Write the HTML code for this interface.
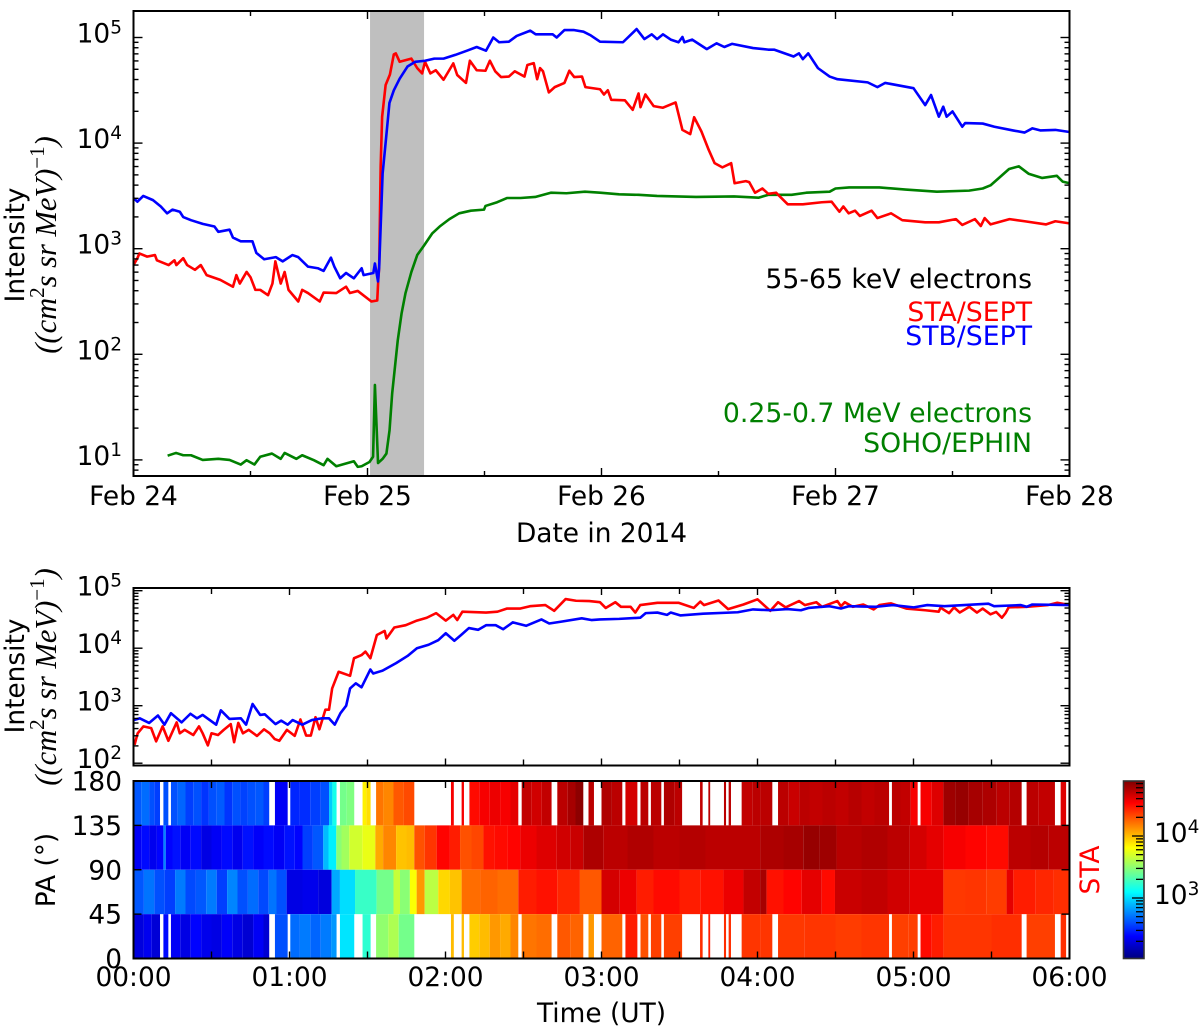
<!DOCTYPE html>
<html>
<head>
<meta charset="utf-8">
<title>Electron intensity, Feb 2014</title>
<style>
html,body{margin:0;padding:0;background:#fff;}
svg{display:block;}
text{font-family:"DejaVu Sans","Liberation Sans",sans-serif;font-size:26.4px;fill:#000;}
.math{font-family:"Liberation Serif","DejaVu Serif",serif;font-style:italic;font-size:30.5px;}
.anno{font-size:26.7px;}
</style>
</head>
<body>
<svg id="fig" xmlns="http://www.w3.org/2000/svg" width="1200" height="1030" viewBox="0 0 1200 1030">
  <rect x="0" y="0" width="1200" height="1030" fill="#fff"/>
  <g id="top-marks"></g>
  <g id="mid-marks"></g>
  <g id="heat-marks"></g>
  <g id="cbar-marks"></g>
  <g id="axes-layer"></g>

  <text transform="translate(24,245) rotate(-90)" text-anchor="middle">Intensity</text>
  <text class="math" transform="translate(56,245) rotate(-90)" text-anchor="middle">((cm<tspan font-size="21" dy="-12" font-style="normal">2</tspan><tspan dy="12">s sr MeV)</tspan><tspan font-size="21" dy="-12" font-style="normal">−1</tspan><tspan dy="12">)</tspan></text>
  <text x="601.5" y="542" text-anchor="middle">Date in 2014</text>

  <text class="anno" x="1032" y="288" text-anchor="end">55-65 keV electrons</text>
  <text class="anno" x="1032" y="321" text-anchor="end" style="fill:#f00">STA/SEPT</text>
  <text class="anno" x="1032" y="345" text-anchor="end" style="fill:#00f">STB/SEPT</text>
  <text class="anno" x="1032" y="422" text-anchor="end" style="fill:#008000">0.25-0.7 MeV electrons</text>
  <text class="anno" x="1032" y="452" text-anchor="end" style="fill:#008000">SOHO/EPHIN</text>

  <text transform="translate(24,676) rotate(-90)" text-anchor="middle">Intensity</text>
  <text class="math" transform="translate(56,677) rotate(-90)" text-anchor="middle">((cm<tspan font-size="21" dy="-12" font-style="normal">2</tspan><tspan dy="12">s sr MeV)</tspan><tspan font-size="21" dy="-12" font-style="normal">−1</tspan><tspan dy="12">)</tspan></text>

  <text transform="translate(55,870) rotate(-90)" text-anchor="middle">PA (°)</text>
  <text x="601.5" y="1022" text-anchor="middle">Time (UT)</text>
  <text transform="translate(1099,870) rotate(-90)" text-anchor="middle" style="fill:#f00">STA</text>
</svg>

<script>
// ===== Overview panel: hours since Feb 24 00:00 UT, log10 intensity =====
const staHours = [
0,0.4,0.6,1.4,2.2,2.4,3.6,4.2,4.4,5.1,
5.5,6.3,6.9,7.5,8.9,10.2,10.55,10.9,11.6,12,
12.5,13,13.8,14.25,14.55,15.1,15.5,15.9,16.9,17.3,
17.9,19.1,19.5,20.8,21.8,22.2,23,24.4,25,25.1,
25.2,25.35,25.5,25.86,26.3,26.7,26.9,27.3,28.5,29.1,
29.6,29.9,30.45,31,31.8,32.8,33.2,34.1,34.5,35.2,
36.1,36.55,37.1,37.7,38.5,39.1,40.1,40.4,41.05,41.4,
41.7,42,42.6,43.2,44.2,44.7,45.2,46,46.35,47.85,
48.25,48.65,49,50.4,51.2,51.8,52,52.5,53.35,54.3,
55.6,56.3,57.1,57.5,58.25,59,59.6,60.4,61.3,61.65,
62.8,63.15,63.75,64.5,65.1,65.9,67.1,68.65,70.6,71.6,
72.4,72.8,73.35,74,74.5,75.7,76.3,77.7,78.85,81.2,
82.6,84.35,85,86.3,86.9,87.3,87.9,89.85,91.4,93.6,
94.55,96];
const staLogIntensity = [
2.845,2.91,2.955,2.925,2.94,2.89,2.845,2.89,2.845,2.91,
2.845,2.8,2.845,2.75,2.705,2.64,2.75,2.67,2.78,2.73,
2.61,2.61,2.56,2.67,2.88,2.67,2.78,2.61,2.5,2.61,
2.58,2.5,2.585,2.58,2.64,2.58,2.6,2.5,2.51,2.7,
2.83,3.78,4.25,4.55,4.65,4.84,4.85,4.77,4.8,4.71,
4.66,4.77,4.66,4.69,4.6,4.755,4.645,4.57,4.78,4.69,
4.685,4.78,4.68,4.625,4.63,4.68,4.63,4.74,4.757,4.605,
4.71,4.68,4.48,4.53,4.57,4.685,4.625,4.63,4.53,4.51,
4.46,4.5,4.41,4.405,4.315,4.47,4.34,4.46,4.35,4.335,
4.385,4.125,4.085,4.245,4.11,3.935,3.81,3.77,3.81,3.62,
3.64,3.63,3.53,3.57,3.52,3.53,3.42,3.42,3.44,3.445,
3.35,3.4,3.335,3.36,3.31,3.36,3.29,3.335,3.27,3.25,
3.25,3.28,3.225,3.28,3.215,3.29,3.23,3.28,3.26,3.23,
3.26,3.24];

const stbHours = [
0,0.4,1,2,2.8,3.45,4,4.75,5.1,5.9,
7.1,8.3,8.7,9.85,10.2,11,12.2,12.6,13.4,14.6,
15.3,16.3,16.9,17.9,18.9,19.5,20.25,20.6,21.2,21.8,
22.6,23.4,23.6,24.6,24.76,25.08,25.2,25.55,25.95,26.25,
26.7,27.3,28.1,28.9,29.9,30.85,31.8,33,34.2,35.2,
36.15,36.9,37.5,38.5,39.3,40.7,41.25,43,43.4,44.2,
45.2,46.15,46.9,47.85,50.2,51.6,52.4,53.15,53.7,54.3,
55.1,55.9,56.3,56.5,57.3,58.8,59.8,60.6,61.4,63.55,
65.1,65.7,67.7,68.25,68.65,69.2,70.2,71.4,72.2,75.3,
76.3,77.1,80,81.2,81.8,82.6,83.05,83.4,84,85,
85.3,87.1,88.3,90.2,91.4,92.2,93,94.55,96];
const stbLogIntensity = [
3.48,3.445,3.5,3.46,3.4,3.335,3.37,3.35,3.3,3.27,
3.235,3.21,3.16,3.18,3.105,3.07,3.07,2.96,2.9,2.92,
2.88,2.94,2.92,2.83,2.815,2.79,2.915,2.83,2.72,2.77,
2.72,2.815,2.75,2.77,2.86,2.69,2.83,3.71,4.09,4.38,
4.5,4.61,4.725,4.77,4.78,4.8,4.8,4.835,4.875,4.91,
4.875,5,4.955,4.96,5.015,5.065,5.03,5.03,5,5.07,
5.07,5.055,5.02,4.96,4.955,5.08,4.985,5.03,4.985,5.03,
4.98,4.955,5.005,4.955,4.98,4.89,4.945,4.91,4.94,4.9,
4.885,4.885,4.82,4.85,4.795,4.85,4.71,4.63,4.605,4.575,
4.53,4.57,4.52,4.36,4.455,4.25,4.345,4.25,4.3,4.155,
4.19,4.185,4.155,4.12,4.1,4.14,4.12,4.125,4.105];

const ephinHours = [
3.5,4.36,5.1,5.9,7.1,8.7,9.85,11,11.6,12.4,
13,14.2,15.1,15.5,16.7,17.3,18.5,19.5,19.9,20.8,
22.6,23,23.4,24.2,24.57,24.76,25.08,25.55,25.94,26.26,
26.53,26.85,27.1,27.5,27.9,28.5,29.1,29.8,30.65,31.4,
32.4,33.4,34.6,35.95,36.1,37.3,38.3,39.7,41.2,42.8,
44.4,46.3,47.85,49.8,51.8,53.7,57.7,61.6,64.1,65.1,
67.5,69,71.4,72,73.4,76.5,79.2,82.4,85.7,87.1,
87.9,88.7,89.8,90.8,91.8,93.2,94.7,95.3,96];
const ephinLogIntensity = [
1.04,1.066,1.044,1.044,1,1.01,1,0.956,0.997,0.956,
1.03,1.06,1.01,1.066,1.01,1.044,0.997,0.95,1.01,0.94,
0.987,0.934,0.94,0.98,1.03,1.71,0.97,1.01,1.06,1.28,
1.63,1.91,2.13,2.39,2.58,2.78,2.94,3.03,3.146,3.21,
3.28,3.335,3.36,3.37,3.405,3.44,3.48,3.48,3.49,3.53,
3.525,3.54,3.53,3.515,3.51,3.5,3.49,3.495,3.483,3.51,
3.51,3.53,3.54,3.57,3.58,3.58,3.56,3.54,3.55,3.57,
3.6,3.665,3.755,3.78,3.71,3.67,3.69,3.635,3.62];

const shadedSpanHours = [24.26, 29.8];
const topXLabels = ["Feb 24","Feb 25","Feb 26","Feb 27","Feb 28"];
const topYExponents = [5,4,3,2,1];

// ===== Zoom panel: minutes since 00:00 UT Feb 25, log10 intensity =====
const midStaMinutes = [
0.4,1.6,3.8,6.8,8.7,11.2,13.4,16.6,17.8,19.7,
23,25.2,26.6,28.6,30,32.5,34.7,37.4,38.7,40.3,
42.1,44.3,47.5,50.2,52.4,54.3,56.1,59,62,64.2,
66.4,68.2,70,71.5,73.8,75.2,76.4,78.9,83.3,84.8,
87.7,89.2,91.1,93.6,96.6,97.3,100.3,104.7,109,112.8,
116.4,120.1,123,124.5,126.5,135.6,140,143.7,148.8,152.5,
158.4,161.8,166.2,170.2,175.3,179.4,181.6,185.3,187.5,191.2,
193,194.9,201.5,209.6,215.5,218,219.4,225,228.7,234.6,
240,244.9,247.9,250.8,256,258.2,262.6,264.8,270.7,272.1,
273.6,276.6,280.7,284.7,286.9,291.3,297.2,304.5,309.7,310.4,
313.7,315.6,317.8,321.5,324.4,326.6,329.6,331.8,334,335.4,
336.6,343.5,351.6,355.3,360];
const midStaLogIntensity = [
2.32,2.52,2.64,2.61,2.38,2.64,2.39,2.71,2.52,2.58,
2.49,2.64,2.52,2.31,2.52,2.49,2.58,2.68,2.365,2.7,
2.52,2.58,2.475,2.59,2.52,2.42,2.39,2.58,2.475,2.76,
2.48,2.48,2.8,2.59,2.93,2.93,3.3,3.59,3.52,3.825,
3.88,3.94,3.825,4.23,4.3,4.17,4.36,4.4,4.48,4.53,
4.61,4.48,4.58,4.49,4.635,4.62,4.635,4.69,4.69,4.73,
4.75,4.65,4.855,4.825,4.82,4.8,4.7,4.8,4.72,4.72,
4.62,4.75,4.79,4.79,4.7,4.81,4.75,4.83,4.68,4.76,
4.85,4.65,4.8,4.71,4.82,4.75,4.8,4.72,4.82,4.73,
4.8,4.72,4.76,4.675,4.75,4.78,4.69,4.66,4.635,4.705,
4.61,4.71,4.62,4.72,4.62,4.69,4.59,4.63,4.53,4.61,
4.71,4.72,4.75,4.79,4.75];

const midStbMinutes = [
0,2.4,6,9.4,11.9,14.4,18.5,21.9,24.4,26.6,
31.8,33.6,36.9,41.3,43.3,45.8,48.7,50.5,54.6,56.8,
59.3,61.2,64.9,68.6,72.3,75.2,77.4,79.6,81.8,83.3,
85.5,87.7,91.1,92.2,95.8,101,105.4,109,113.5,117.2,
120.1,123.4,126,129,132.6,135.6,139.3,142.2,145.9,151,
156.9,159.9,164.3,172.4,176.1,179.4,186.8,194.9,197,201.5,
205.2,206.6,210.3,219.1,232.4,238.3,244.9,251.5,256.7,259.6,
267.7,272.1,275.1,285.4,292,300.1,305.3,311.9,328.8,331,
341.3,343.5,345.7,360];
const midStbLogIntensity = [
2.75,2.78,2.7,2.83,2.67,2.87,2.71,2.86,2.78,2.84,
2.67,2.92,2.77,2.78,2.67,3.03,2.84,2.85,2.68,2.74,
2.67,2.75,2.67,2.75,2.78,2.78,2.67,2.87,3,3.3,
3.39,3.32,3.63,3.56,3.61,3.74,3.865,4,4.06,4.14,
4.26,4.13,4.23,4.35,4.32,4.4,4.4,4.33,4.45,4.39,
4.5,4.43,4.46,4.52,4.49,4.5,4.51,4.53,4.61,4.62,
4.58,4.62,4.57,4.6,4.625,4.675,4.66,4.68,4.66,4.7,
4.73,4.69,4.73,4.72,4.75,4.71,4.75,4.73,4.775,4.73,
4.75,4.72,4.76,4.75];

const midYExponents = [5,4,3,2];

// ===== Pitch-angle heatmap: run ends in minutes, log10 flux (null = no data) =====
const pa135to180Ends = [
3,6,8,10.2,11.5,13.4,14.4,17,20,23,
26,29,32,35,38,41,44,47,50,52.2,
54.4,59.3,60.3,64,68,72,75.2,76.5,78.1,79.4,
82,84.9,88.1,89.5,91.2,93.3,96,100,104,108,
122.1,123.2,126.2,127.1,129.2,133,137,141,145,148,
149.3,153,157,160.8,163,167,170,173,175,177.1,
180,184,188,189.2,193.8,195,198,199,203,204,
208,211,217.9,218.9,221.1,221.8,227.1,227.9,228.9,229.8,
233.9,238,241,245.7,247.9,252,256,260,265,270,
275,280,285,290.6,291.7,295,298.9,301.6,302.7,307,
311.5,316,321,326.6,332,337,341.6,343.5,348,354.4,
356.6,358.7,359.6,360];
const pa135to180Flux = [
2.62,2.68,2.6,2.55,null,2.6,null,2.6,2.66,2.55,
2.6,2.52,2.6,2.63,2.52,2.6,2.56,2.6,2.62,2.55,
null,2.35,null,2.48,2.5,2.55,2.6,2.95,3.15,null,
3.42,3.45,null,3.85,3.9,null,4.2,4.15,4.28,4.32,
null,4.55,null,4.55,null,4.5,4.55,4.58,4.55,4.6,
null,4.7,4.66,4.7,null,4.72,4.78,4.85,null,4.72,
null,4.75,4.72,null,4.65,null,4.72,null,4.72,null,
4.75,4.72,null,4.7,null,4.72,null,4.72,null,4.72,
null,4.7,4.72,4.72,null,4.72,4.68,4.72,4.7,4.72,
4.7,4.73,4.7,4.72,null,4.72,4.7,4.55,null,4.55,
4.62,4.8,4.82,4.78,4.76,4.72,4.74,null,4.72,4.7,
null,4.62,null,4.6];

const pa90to135Ends = [
3,6,9,11.5,12.4,15,18,22,26,30,
34,38,42,46,50,54,58,62,65,69,
73,75,78,80,83,88,93,96,101,105,
108,112,116.6,121.7,125.6,130,134.6,139,144,148.7,
155,162.8,168,173,180.7,190,200,210,220,230,
241,250,257.6,264,270.4,280,290,298.6,305,311.5,
320,328,336.5,345,352,360];
const pa90to135Flux = [
2.35,2.4,2.33,2.38,2.75,2.38,2.42,2.35,2.4,2.3,
2.35,2.4,2.33,2.42,2.36,2.4,2.35,2.42,2.38,2.55,
2.62,2.9,3.05,3.48,3.55,3.68,3.75,4.05,4.15,3.98,
4,4.3,4.38,4.52,4.45,4.3,4.33,4.48,4.5,4.52,
4.58,4.62,4.66,4.68,4.76,4.72,4.75,4.72,4.74,4.72,
4.72,4.76,4.78,4.82,4.8,4.73,4.75,4.72,4.65,4.6,
4.55,4.52,4.5,4.72,4.74,4.72];

const pa45to90Ends = [
4,8,12,16,20,24,28,32,36,40,
44,48,52,55,58.9,65,71,76.2,79.4,85.2,
93.5,100,102.5,106.3,108.9,112,117.2,121.7,126.2,133.3,
140,148,155,163,171.7,180,187,193.5,200,210,
218,226.9,234.6,241,243.5,250,257,264.7,269.8,280,
290,298.6,311.5,320,328,335.8,338.4,347,354,360];
const pa45to90Flux = [
2.62,2.7,2.6,2.55,2.72,2.58,2.62,2.72,2.55,2.75,
2.6,2.68,2.58,2.7,2.6,2.3,2.32,2.28,2.85,3,
3.25,3.42,3.65,3.48,3.8,4.1,3.62,3.92,3.98,4.22,
4.25,4.22,4.45,4.48,4.42,4.28,4.65,4.58,4.45,4.5,
4.45,4.48,4.58,4.7,4.78,4.48,4.52,4.6,4.5,4.68,
4.7,4.66,4.6,4.37,4.38,4.36,4.6,4.45,4.42,4.4];

const pa0to45Ends = [
4,7,10.2,11.5,13.4,14.4,18,22,26,30,
34,38,42,46,50,52.2,54.4,59.3,60.3,64,
68,72,76,78.1,79.4,84.9,88.1,91.2,93.3,98,
102,108,122.1,123.2,126.2,127.1,129.2,133,137,141,
145,148,149.3,155,160.8,163,168,173,175,177.1,
180,188,189.2,193.8,195,198,199,203,204,211,
217.9,218.9,221.1,221.8,227.1,227.9,228.9,229.8,233.9,241,
245.7,247.9,258,270,280,290.6,291.7,298,301.6,302.7,
307,311.5,320,330,341.6,343.5,354.4,356.6,358.7,359.6,360];
const pa0to45Flux = [
2.28,2.33,2.26,null,2.4,null,2.35,2.3,2.38,2.32,
2.3,2.36,2.3,2.25,2.35,2.25,null,2.6,null,2.68,
2.72,2.66,2.72,2.8,null,3.02,null,3.22,null,3.5,
3.58,3.42,null,4,null,4,null,3.95,4,4.1,
4.05,4.15,null,4.2,4.22,null,4.28,4.25,null,4.1,
null,4.25,null,4.45,null,4.3,null,4.35,null,4.35,
null,4.4,null,4.45,null,4.4,null,4.4,null,4.38,
4.38,null,4.37,4.38,4.36,4.38,null,4.35,4.35,null,
4.5,4.45,4.38,4.38,4.4,null,4.35,null,4.4,null,4.38];

const paTickValues = [0,45,90,135,180];
const timeLabels = ["00:00","01:00","02:00","03:00","04:00","05:00","06:00"];
const colorbarExponents = [3,4];

// ===== Axis functions =====
const panelLeft = 133.5, panelRight = 1069.5;
const topTop = 11, topBottom = 476;
const midTop = 588, midBottom = 765.5;
const heatTop = 781, heatBottom = 958.5;
const cbarLeft = 1123.5, cbarRight = 1144;
const colorLogMin = 2.016, colorLogMax = 4.887;

const pxPerHour = (panelRight - panelLeft) / 96;
const pxPerMinute = (panelRight - panelLeft) / 360;
const topX = h => panelLeft + h * pxPerHour;
const topY = l => 37.5 + (5 - l) * 105.6;
const midX = m => panelLeft + m * pxPerMinute;
const midY = l => 590.7 + (5 - l) * 57.5;
const heatY = pa => heatBottom - pa * (heatBottom - heatTop) / 180;
const cbarY = l => 898 + (3 - l) * 62;

function jet(t) {
  t = Math.max(0, Math.min(1, t));
  const c = v => Math.round(255 * Math.max(0, Math.min(1, v)));
  const r = c(Math.min(4 * t - 1.5, -4 * t + 4.5));
  const g = c(Math.min(4 * t - 0.5, -4 * t + 3.5));
  const b = c(Math.min(4 * t + 0.5, -4 * t + 2.5));
  return 'rgb(' + r + ',' + g + ',' + b + ')';
}
const fluxColor = l => jet((l - colorLogMin) / (colorLogMax - colorLogMin));

const NS = 'http://www.w3.org/2000/svg';
function mk(parent, tag, attrs) {
  const el = document.createElementNS(NS, tag);
  for (const k in attrs) el.setAttribute(k, attrs[k]);
  parent.appendChild(el);
  return el;
}
function pathOf(xs, ys) {
  let d = '';
  for (let i = 0; i < xs.length && i < ys.length; i++) {
    d += (i ? 'L' : 'M') + xs[i].toFixed(2) + ' ' + ys[i].toFixed(2);
  }
  return d;
}

const topG = document.getElementById('top-marks');
const midG = document.getElementById('mid-marks');
const heatG = document.getElementById('heat-marks');
const cbarG = document.getElementById('cbar-marks');
const axesG = document.getElementById('axes-layer');
const lineWidth = 2.6;

// ----- overview panel marks -----
const shade = mk(topG, 'rect', {x: topX(shadedSpanHours[0]), y: topTop, width: topX(shadedSpanHours[1]) - topX(shadedSpanHours[0]), height: topBottom - topTop, fill: '#bfbfbf'});



const ephinLine = mk(topG, 'path', {d: pathOf(ephinHours.map(topX), ephinLogIntensity.map(topY)), fill: 'none', stroke: '#008000', 'stroke-width': lineWidth, 'stroke-linejoin': 'round'});



const staLine = mk(topG, 'path', {d: pathOf(staHours.map(topX), staLogIntensity.map(topY)), fill: 'none', stroke: '#ff0000', 'stroke-width': lineWidth, 'stroke-linejoin': 'round'});



const stbLine = mk(topG, 'path', {d: pathOf(stbHours.map(topX), stbLogIntensity.map(topY)), fill: 'none', stroke: '#0000ff', 'stroke-width': lineWidth, 'stroke-linejoin': 'round'});



// ----- zoom panel marks -----
const midStaLine = mk(midG, 'path', {d: pathOf(midStaMinutes.map(midX), midStaLogIntensity.map(midY)), fill: 'none', stroke: '#ff0000', 'stroke-width': lineWidth, 'stroke-linejoin': 'round'});



const midStbLine = mk(midG, 'path', {d: pathOf(midStbMinutes.map(midX), midStbLogIntensity.map(midY)), fill: 'none', stroke: '#0000ff', 'stroke-width': lineWidth, 'stroke-linejoin': 'round'});



// ----- heatmap cells -----
function drawPaRow(ends, flux, paLow, paHigh) {
  let start = 0;
  for (let i = 0; i < ends.length; i++) {
    const end = ends[i];
    if (flux[i] !== null && flux[i] !== undefined) {
      const cell = mk(heatG, 'rect', {x: midX(start).toFixed(2), y: heatY(paHigh).toFixed(2), width: (midX(end) - midX(start)).toFixed(2), height: (heatY(paLow) - heatY(paHigh)).toFixed(2), fill: fluxColor(flux[i])});
      
      
    }
    start = end;
  }
}
drawPaRow(pa135to180Ends, pa135to180Flux, 135, 180);
drawPaRow(pa90to135Ends, pa90to135Flux, 90, 135);
drawPaRow(pa45to90Ends, pa45to90Flux, 45, 90);
drawPaRow(pa0to45Ends, pa0to45Flux, 0, 45);

// ----- colorbar -----
const defs = mk(cbarG, 'defs', {});
const grad = mk(defs, 'linearGradient', {id: 'jet-gradient', x1: 0, y1: 1, x2: 0, y2: 0});
for (let i = 0; i <= 16; i++) {
  mk(grad, 'stop', {offset: i / 16, 'stop-color': jet(i / 16)});
}
const cbarRect = mk(cbarG, 'rect', {x: cbarLeft, y: heatTop, width: cbarRight - cbarLeft, height: heatBottom - heatTop, fill: 'url(#jet-gradient)', stroke: '#333', 'stroke-width': 1.6});



for (let dec = 2; dec <= 4; dec++) {
  for (let m = 1; m <= 9; m++) {
    const l = dec + Math.log10(m);
    if (l < colorLogMin || l > colorLogMax) continue;
    const len = m === 1 ? 11 : 7;
    const t = mk(cbarG, 'line', {x1: cbarRight - 1, x2: cbarRight - 1 - len, y1: cbarY(l), y2: cbarY(l), stroke: '#000', 'stroke-width': 1.3});
    
    
  }
}
colorbarExponents.forEach(function (e) {
  const lab = mk(cbarG, 'text', {x: 1154, y: cbarY(e) + 6});
  
  
  lab.appendChild(document.createTextNode('10'));
  const sup = mk(lab, 'tspan', {dy: -9, 'font-size': 18.5});
  sup.textContent = String(e);
});

// ----- axes -----
function frame(top, bottom, name) {
  const r = mk(axesG, 'rect', {x: panelLeft, y: top, width: panelRight - panelLeft, height: bottom - top, fill: 'none', stroke: '#000', 'stroke-width': 2});
  
  
}
function xTick(x, top, bottom, len) {
  const a = mk(axesG, 'line', {x1: x, x2: x, y1: bottom, y2: bottom - len, stroke: '#000', 'stroke-width': 1.4});
  
  
  const b = mk(axesG, 'line', {x1: x, x2: x, y1: top, y2: top + len, stroke: '#000', 'stroke-width': 1.4});
  
  
}
function yTick(y, len) {
  const a = mk(axesG, 'line', {x1: panelLeft, x2: panelLeft + len, y1: y, y2: y, stroke: '#000', 'stroke-width': 1.4});
  
  
  const b = mk(axesG, 'line', {x1: panelRight, x2: panelRight - len, y1: y, y2: y, stroke: '#000', 'stroke-width': 1.4});
  
  
}
function logTicks(scale, top, bottom, minDec, maxDec) {
  for (let dec = minDec; dec <= maxDec; dec++) {
    for (let m = 1; m <= 9; m++) {
      const y = scale(dec + Math.log10(m));
      if (y < top + 1 || y > bottom - 1) continue;
      yTick(y, m === 1 ? 9 : 5);
    }
  }
}
function powerLabel(exp, y) {
  const lab = mk(axesG, 'text', {x: 122, y: y + 5, 'text-anchor': 'end'});
  
  
  lab.appendChild(document.createTextNode('10'));
  const sup = mk(lab, 'tspan', {dy: -9, 'font-size': 18.5});
  sup.textContent = String(exp);
}

frame(topTop, topBottom, 'overview-panel-frame');
logTicks(topY, topTop, topBottom, 0, 5);
topYExponents.forEach(function (e) { powerLabel(e, topY(e)); });
topXLabels.forEach(function (txt, i) {
  const lab = mk(axesG, 'text', {x: topX(i * 24), y: 505, 'text-anchor': 'middle'});
  
  
  lab.textContent = txt;
});
for (let h = 12; h < 96; h += 12) xTick(topX(h), topTop, topBottom, h % 24 === 0 ? 8 : 5);

frame(midTop, midBottom, 'zoom-panel-frame');
logTicks(midY, midTop, midBottom, 1, 5);
midYExponents.forEach(function (e) { powerLabel(e, midY(e)); });
for (let m = 30; m < 360; m += 30) xTick(midX(m), midTop, midBottom, m % 60 === 0 ? 7 : 6);

frame(heatTop, heatBottom, 'heatmap-frame');
paTickValues.forEach(function (pa) {
  if (pa > 0 && pa < 180) yTick(heatY(pa), 8);
  const lab = mk(axesG, 'text', {x: 122, y: heatY(pa) + 9.5, 'text-anchor': 'end'});
  
  
  lab.textContent = String(pa);
});
for (let m = 30; m < 360; m += 30) xTick(midX(m), heatTop, heatBottom, 7);
timeLabels.forEach(function (txt, i) {
  const lab = mk(axesG, 'text', {x: midX(i * 60), y: 986, 'text-anchor': 'middle'});
  
  
  lab.textContent = txt;
});
</script>
</body>
</html>
